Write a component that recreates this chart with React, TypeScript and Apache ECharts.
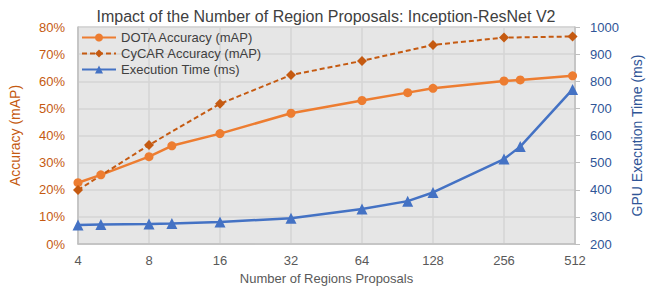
import React, { useEffect, useRef } from "react";
import * as echarts from "echarts";

const proposals = [4, 5, 8, 10, 16, 32, 64, 100, 128, 256, 300, 500];
const dotaAccuracy = [22.6, 25.5, 32.2, 36.2, 40.7, 48.2, 52.9, 55.8, 57.4, 60.1, 60.5, 62.0];
const cycarProposals = [4, 8, 16, 32, 64, 128, 256, 500];
const cycarAccuracy = [19.9, 36.5, 51.7, 62.3, 67.5, 73.4, 76.1, 76.5];
const executionTime = [270, 272, 274, 276, 281, 295, 329, 358, 390, 513, 559, 770];

const FONT = "Liberation Sans";

export default function App() {
  const ref = useRef<HTMLDivElement>(null);
  useEffect(() => {
    document.body.style.margin = "0";
    if (!ref.current) return;
    const chart = echarts.init(ref.current, undefined, { renderer: "svg" });
    const pair = (xs: number[], ys: number[]) => xs.map((x, i) => [x, ys[i]]);
    chart.setOption({
      animation: false,
      textStyle: { fontFamily: FONT },
      title: {
        text: "Impact of the Number of Region Proposals: Inception-ResNet V2",
        left: "center",
        top: 3,
        textStyle: { fontFamily: FONT, fontSize: 16, fontWeight: "normal", color: "#404040" },
      },
      legend: {
        orient: "vertical",
        left: 81,
        top: 31,
        padding: 0,
        itemGap: 3,
        itemWidth: 34,
        itemHeight: 10,
        textStyle: { fontFamily: FONT, fontSize: 13, color: "#404040" },
        data: ["DOTA Accuracy (mAP)", "CyCAR Accuracy (mAP)", "Execution Time (ms)"],
      },
      grid: {
        left: 71,
        right: 58,
        top: 27,
        bottom: 47,
        show: true,
        backgroundColor: "#e6e6e6",
        borderColor: "#d0d0d0",
        borderWidth: 1,
      },
      xAxis: {
        type: "log",
        logBase: 2,
        min: 4,
        max: 512,
        splitNumber: 7,
        name: "Number of Regions Proposals",
        nameLocation: "middle",
        nameGap: 27,
        nameTextStyle: { fontFamily: FONT, fontSize: 13, color: "#595959" },
        axisLine: { show: true, lineStyle: { color: "#bfbfbf", width: 1.5 } },
        axisTick: { show: false },
        minorTick: { show: false },
        axisLabel: { fontFamily: FONT, fontSize: 13, color: "#595959", margin: 10 },
        splitLine: { show: true, lineStyle: { color: "#d4d4d4", width: 1.5 } },
      },
      yAxis: [
        {
          type: "value",
          min: 0,
          max: 80,
          interval: 10,
          name: "Accuracy (mAP)",
          nameLocation: "middle",
          nameGap: 56,
          nameRotate: 90,
          nameTextStyle: { fontFamily: FONT, fontSize: 14, color: "#c55a11" },
          axisLine: { show: true, lineStyle: { color: "#bfbfbf", width: 1.5 } },
          axisTick: { show: false },
          axisLabel: { fontFamily: FONT, fontSize: 13, color: "#c55a11", margin: 13, formatter: "{value}%" },
          splitLine: { show: true, lineStyle: { color: "#d4d4d4", width: 1.5 } },
        },
        {
          type: "value",
          min: 200,
          max: 1000,
          interval: 100,
          position: "right",
          name: "GPU Execution Time (ms)",
          nameLocation: "middle",
          nameGap: 55,
          nameRotate: 90,
          nameTextStyle: { fontFamily: FONT, fontSize: 14, color: "#2f5597" },
          axisLine: { show: true, lineStyle: { color: "#bfbfbf", width: 1.5 } },
          axisTick: { show: true, inside: false, length: 5, lineStyle: { color: "#bfbfbf" } },
          axisLabel: {
            fontFamily: FONT,
            fontSize: 13,
            color: "#2f5597",
            margin: 15,
            formatter: (v: number) => String(v),
          },
          splitLine: { show: false },
        },
      ],
      series: [
        {
          name: "DOTA Accuracy (mAP)",
          type: "line",
          yAxisIndex: 0,
          data: pair(proposals, dotaAccuracy),
          symbol: "circle",
          symbolSize: 9,
          itemStyle: { color: "#ed7d31" },
          lineStyle: { color: "#ed7d31", width: 2.5 },
        },
        {
          name: "CyCAR Accuracy (mAP)",
          type: "line",
          yAxisIndex: 0,
          data: pair(cycarProposals, cycarAccuracy),
          symbol: "diamond",
          symbolSize: 10,
          itemStyle: { color: "#c55a11" },
          lineStyle: { color: "#c55a11", width: 2, type: [5, 3] },
        },
        {
          name: "Execution Time (ms)",
          type: "line",
          yAxisIndex: 1,
          data: pair(proposals, executionTime),
          symbol: "triangle",
          symbolSize: 11,
          itemStyle: { color: "#4472c4" },
          lineStyle: { color: "#4472c4", width: 2.5 },
        },
      ],
    });
    return () => chart.dispose();
  }, []);
  return <div ref={ref} style={{ width: 652, height: 291 }} />;
}
